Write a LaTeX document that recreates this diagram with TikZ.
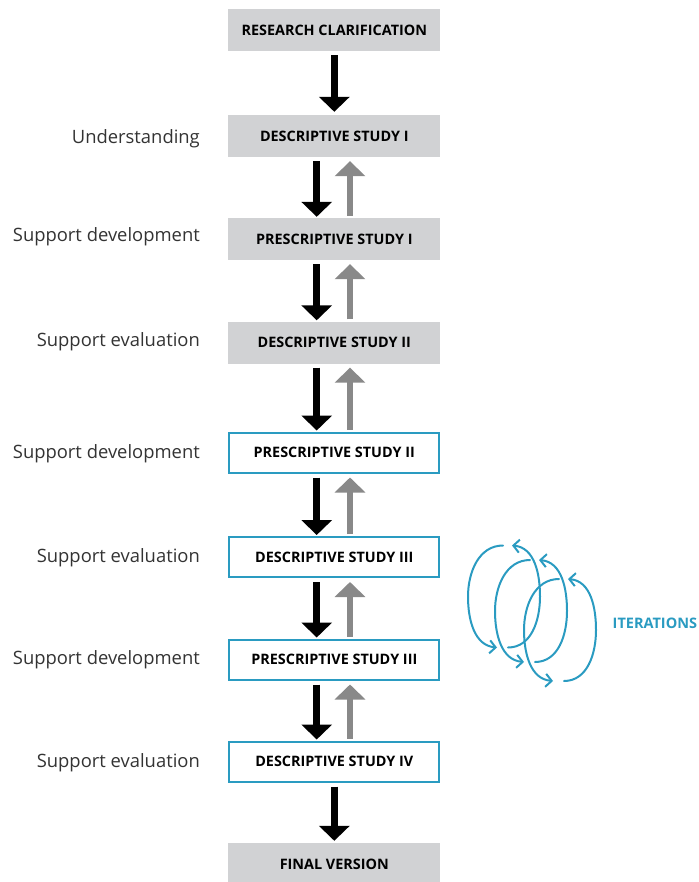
\documentclass[tikz,border=0pt]{standalone}
\usepackage{fontspec}
\setmainfont{Open Sans}
\usetikzlibrary{arrows.meta}
\definecolor{boxgray}{HTML}{D1D2D4}
\definecolor{flowblue}{HTML}{2A9BC1}
\definecolor{backgray}{HTML}{898989}
\definecolor{labelgray}{HTML}{333333}
\begin{document}
\begin{tikzpicture}[x=1pt,y=-1pt,
  stage/.style={minimum width=212pt, minimum height=42pt, inner sep=0pt,
    font=\fontsize{14.4}{17}\selectfont\bfseries, text=black},
  fixedstage/.style={stage, fill=boxgray},
  openstage/.style={stage, draw=flowblue, line width=2pt, fill=white,
    minimum width=210pt, minimum height=40pt},
  phase/.style={anchor=base east, inner sep=0pt,
    font=\fontsize{18.4}{22}\selectfont, text=labelgray},
  fwd/.style={line width=7pt, black, -{Triangle[width=30pt,length=15pt]}},
  back/.style={line width=6pt, backgray, -{Triangle[width=30pt,length=15pt]}},
  iterloop/.style={line width=2pt, flowblue, line cap=round,
    -{Straight Barb[length=6pt,width=13pt,line width=2pt]}}
]
\useasboundingbox (0,0) rectangle (698,882);

% stages
\node[fixedstage] (rc)  at (334.3,30)    {RESEARCH CLARIFICATION};
\node[fixedstage] (ds1) at (334.3,136)   {DESCRIPTIVE STUDY I};
\node[fixedstage] (ps1) at (334.3,239)   {PRESCRIPTIVE STUDY I};
\node[fixedstage] (ds2) at (334.3,342.5) {DESCRIPTIVE STUDY II};
\node[openstage]  (ps2) at (334.3,452.5) {PRESCRIPTIVE STUDY II};
\node[openstage]  (ds3) at (334.3,557)   {DESCRIPTIVE STUDY III};
\node[openstage]  (ps3) at (334.3,659.5) {PRESCRIPTIVE STUDY III};
\node[openstage]  (ds4) at (334.3,761.5) {DESCRIPTIVE STUDY IV};
\node[fixedstage] (fv)  at (334.3,864)   {FINAL VERSION};

% phase labels (placed by baseline)
\node[phase] (l1) at (200,143.3) {Understanding};
\node[phase] (l2) at (200,241.7) {Support development};
\node[phase] (l3) at (200,346)   {Support evaluation};
\node[phase] (l4) at (200,458.3) {Support development};
\node[phase] (l5) at (200,562)   {Support evaluation};
\node[phase] (l6) at (200,664)   {Support development};
\node[phase] (l7) at (200,767)   {Support evaluation};

% single forward arrows
\draw[fwd, shorten <=4pt, shorten >=3pt] (rc.south) -- (ds1.north);
\draw[fwd, shorten <=4pt, shorten >=2pt] (ds4.south) -- (fv.north);

% forward / backward pairs
\foreach \a/\b in {ds1/ps1, ps1/ds2, ds2/ps2, ps2/ds3, ds3/ps3, ps3/ds4}{
  \draw[fwd, shorten <=4pt, shorten >=1pt]
    ([xshift=-17.6pt]\a.south) -- ([xshift=-17.6pt]\b.north);
  \draw[back, shorten <=2pt, shorten >=4pt]
    ([xshift=15.7pt]\b.north) -- ([xshift=15.7pt]\a.south);
}

% iteration loops
\foreach \cx/\cy in {504/596.5, 531/611, 560/630}{
  \draw[iterloop] (\cx-1,\cy-51) to[out=180,in=90] (\cx-36,\cy)
    to[out=-90,in=175] (\cx-7,\cy+51);
  \draw[iterloop] (\cx+4,\cy+51) to[out=0,in=-90] (\cx+36,\cy)
    to[out=90,in=-5] (\cx+8,\cy-51);
}
\node[anchor=west, inner sep=0pt, font=\fontsize{14.5}{17}\selectfont\bfseries,
  text=flowblue] (iter) at (612.5,623) {ITERATIONS};
\end{tikzpicture}
\end{document}
